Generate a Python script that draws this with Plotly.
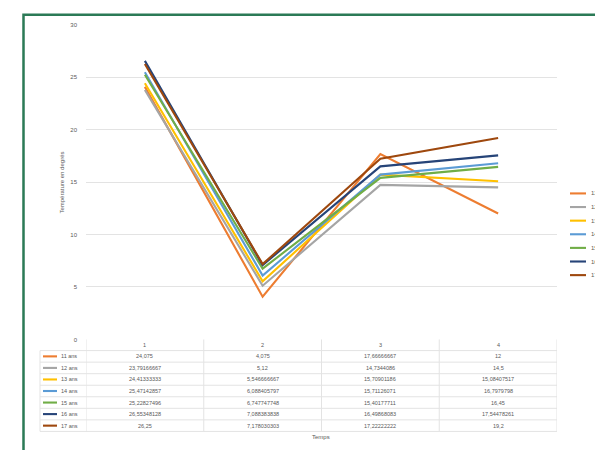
import plotly.graph_objects as go

# Time steps and age groups
temps = [1, 2, 3, 4]
groupes = ["11 ans", "12 ans", "13 ans", "14 ans", "15 ans", "16 ans", "17 ans"]

# Measured values per age group at each time step
v11 = [24.075, 4.075, 17.66666667, 12]
v12 = [23.79166667, 5.12, 14.73440860, 14.5]
v13 = [24.41333333, 5.546666667, 15.70901186, 15.08407517]
v14 = [25.47142857, 6.088405797, 15.71126071, 16.7979798]
v15 = [25.22827496, 6.747747748, 15.40177711, 16.45]
v16 = [26.55348128, 7.088383838, 16.49868083, 17.54478261]
v17 = [26.25, 7.178030303, 17.22222222, 19.2]
valeurs = [v11, v12, v13, v14, v15, v16, v17]

couleurs = ["#ED7D31", "#A5A5A5", "#FFC000", "#5B9BD5", "#70AD47", "#264478", "#9E480E"]

y_ticks = [0, 5, 10, 15, 20, 25, 30]

W, H = 595, 450


def px(x):
    return x / W


def py(y):
    return 1 - y / H


def fmt(v):
    return f"{v:.10g}".replace(".", ",")


GRID = "#E3E3E3"
TXT = "#595959"
FONT = "Liberation Sans"


def label(x, y, text, xref="paper", size=5.5, xanchor="center", **kw):
    return dict(x=x, y=y, xref=xref, yref="paper", text=text, showarrow=False,
                xanchor=xanchor, yanchor="middle",
                font=dict(size=size, color=TXT, family=FONT), **kw)


fig = go.Figure()
for nom, vals, col in zip(groupes, valeurs, couleurs):
    fig.add_trace(go.Scatter(
        x=temps, y=vals, mode="lines", name=nom,
        line=dict(color=col, width=2.1), showlegend=False,
    ))

shapes = []
annotations = []

# Data table below the plot area
top = 341
header_h = 11.3
row_h = 11.7
row0 = top + header_h
n = len(groupes)
bottom = row0 + n * row_h
left_tab = 40

for k in range(n + 1):
    y = row0 + k * row_h
    shapes.append(dict(type="line", xref="paper", yref="paper",
                       x0=px(left_tab), x1=px(557), y0=py(y), y1=py(y),
                       line=dict(color=GRID, width=1)))
for xb in [0.5, 1.5, 2.5, 3.5, 4.5]:
    shapes.append(dict(type="line", xref="x", yref="paper",
                       x0=xb, x1=xb, y0=py(top), y1=py(bottom),
                       line=dict(color=GRID, width=1)))
shapes.append(dict(type="line", xref="paper", yref="paper",
                   x0=px(left_tab), x1=px(left_tab), y0=py(row0), y1=py(bottom),
                   line=dict(color=GRID, width=1)))

for t in temps:
    annotations.append(label(t, py(top + header_h / 2), str(t), xref="x"))

for i, (nom, vals, col) in enumerate(zip(groupes, valeurs, couleurs)):
    yc = row0 + (i + 0.5) * row_h
    shapes.append(dict(type="line", xref="paper", yref="paper",
                       x0=px(43), x1=px(57), y0=py(yc), y1=py(yc),
                       line=dict(color=col, width=2.1)))
    annotations.append(label(px(59), py(yc), nom, xanchor="left"))
    for t, v in zip(temps, vals):
        annotations.append(label(t, py(yc), fmt(v), xref="x"))

# Legend on the right
for i, (nom, col) in enumerate(zip(groupes, couleurs)):
    yc = 193 + i * 13.8
    shapes.append(dict(type="line", xref="paper", yref="paper",
                       x0=px(570), x1=px(586), y0=py(yc), y1=py(yc),
                       line=dict(color=col, width=2.1)))
    annotations.append(label(px(589), py(yc), nom, size=6, xanchor="left"))

# Axis titles
annotations.append(label(px(321), py(440), "Temps", size=6))
annotations.append(label(px(62), py(182), "Température en degrés", size=6, textangle=-90))

# Green frame
shapes.append(dict(type="rect", xref="paper", yref="paper",
                   x0=px(23.5), x1=px(610), y0=py(12), y1=py(470),
                   line=dict(color="#2B7A56", width=2.5), fillcolor="rgba(0,0,0,0)"))

fig.update_layout(
    width=W, height=H,
    margin=dict(l=0, r=0, t=0, b=0),
    paper_bgcolor="white", plot_bgcolor="white",
    shapes=shapes, annotations=annotations,
    xaxis=dict(domain=[px(86), px(557)], range=[0.5, 4.5], showticklabels=False,
               showgrid=False, zeroline=False, showline=False, ticks=""),
    yaxis=dict(domain=[py(341), py(22)], range=[0, 30], tickvals=y_ticks,
               showgrid=True, gridcolor=GRID, gridwidth=1, zeroline=False,
               showline=False, ticks="", ticklabelstandoff=8,
               tickfont=dict(size=6, color=TXT, family=FONT)),
)

fig.write_html("out.html")
